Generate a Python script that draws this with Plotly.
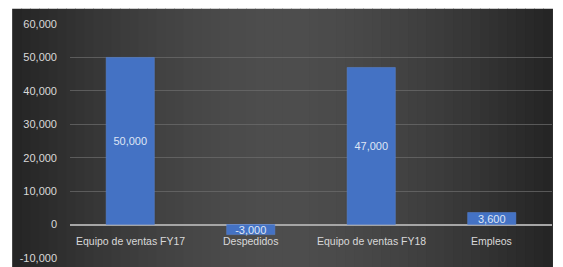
import plotly.graph_objects as go

categories = ["Equipo de ventas FY17", "Despedidos", "Equipo de ventas FY18", "Empleos"]
values = [50000, -3000, 47000, 3600]
y_ticks = [-10000, 0, 10000, 20000, 30000, 40000, 50000, 60000]
y_tick_labels = ["-10,000", "0", "10,000", "20,000", "30,000", "40,000", "50,000", "60,000"]

FONT = "Liberation Sans"

fig = go.Figure()
fig.add_trace(go.Bar(
    x=categories, y=values, width=0.4,
    marker=dict(color="#4472C4", line=dict(color="#5b86d6", width=0.5)),
    text=[f"{v:,}" for v in values],
    textposition="inside", insidetextanchor="middle",
    textfont=dict(family=FONT, size=11, color="#dfe6f5"),
    constraintext="none",
    cliponaxis=False,
))

# background gradient panel (paper coordinates)
x0, x1 = -0.12, 1.0
y0, y1 = -0.04, 1.065
n = 60
shapes = []
for i in range(n):
    t = (i + 0.5) / n
    d = abs(t - 0.5) * 2
    k = 1 - d ** 1.6
    lo, hi = 36, 78
    c = int(lo + (hi - lo) * k)
    shapes.append(dict(type="rect", xref="paper", yref="paper",
                       x0=x0 + (x1 - x0) * i / n, x1=x0 + (x1 - x0) * (i + 1) / n + 0.002,
                       y0=y0, y1=y1, fillcolor=f"rgb({c},{c},{c})",
                       line=dict(width=0), layer="below"))
fig.update_layout(shapes=shapes)

for cat in categories:
    fig.add_annotation(x=cat, y=0, xref="x", yref="y", text=cat, showarrow=False,
                       yanchor="top", yshift=-8,
                       font=dict(family=FONT, size=10.5, color="#d9d9d9"))

fig.update_layout(
    width=563, height=267,
    margin=dict(l=70, r=11, t=24, b=9, autoexpand=False),
    paper_bgcolor="white", plot_bgcolor="rgba(0,0,0,0)",
    showlegend=False,
    bargap=0.6,
    xaxis=dict(showticklabels=False, showgrid=False, zeroline=False, showline=False,
               automargin=False),
    yaxis=dict(range=[-10000, 60000], tickvals=y_ticks, ticktext=y_tick_labels,
               showgrid=True, gridcolor="rgba(110,110,110,0.7)", gridwidth=1,
               zeroline=True, zerolinecolor="#a6a6a6", zerolinewidth=1.5,
               ticks="", ticklabelstandoff=12, automargin=False,
               tickfont=dict(family=FONT, size=11, color="#d9d9d9")),
)

fig.write_html("out.html", config={"displayModeBar": False},
               post_script="document.body.style.margin='0px';document.body.style.overflow='hidden';")
